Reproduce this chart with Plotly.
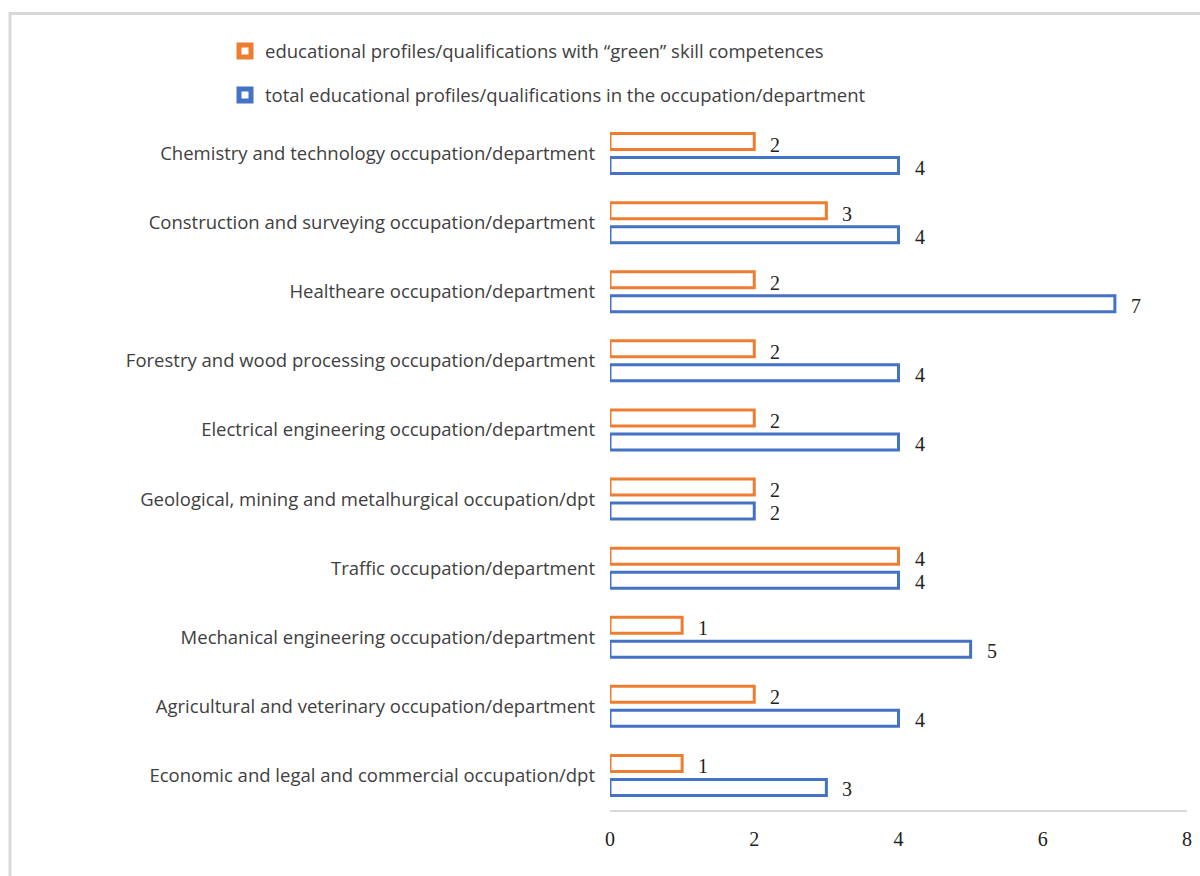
import plotly.graph_objects as go

# Occupations / departments, listed top to bottom
departments = [
    "Chemistry and technology occupation/department",
    "Construction and surveying occupation/department",
    "Healtheare occupation/department",
    "Forestry and wood processing occupation/department",
    "Electrical engineering occupation/department",
    "Geological, mining and metalhurgical occupation/dpt",
    "Traffic occupation/department",
    "Mechanical engineering occupation/department",
    "Agricultural and veterinary occupation/department",
    "Economic and legal and commercial occupation/dpt",
]
green_profiles = [2, 3, 2, 2, 2, 2, 4, 1, 2, 1]
total_profiles = [4, 4, 7, 4, 4, 2, 4, 5, 4, 3]

green_name = "educational profiles/qualifications with “green” skill competences"
total_name = "total educational profiles/qualifications in the occupation/department"

x_ticks = [0, 2, 4, 6, 8]

ORANGE = "#ED7D31"
BLUE = "#4472C4"
TEXT = "#404040"
GREY = "#D9D9D9"
SANS = "'Open Sans', Lato, sans-serif"
SERIF = "'Liberation Serif', 'Times New Roman', serif"
SANS_SIZE = 18.5

W, H = 1200, 876
ML, MR, MT, MB = 610, 13, 118.5, 66
plot_w = W - ML - MR
plot_h = H - MT - MB


def px_x(p):
    return (p - ML) / plot_w


def px_y(p):
    return (H - MB - p) / plot_h


fig = go.Figure()
fig.add_trace(go.Bar(
    y=departments, x=green_profiles, orientation="h", name=green_name,
    marker=dict(color="white", line=dict(color=ORANGE, width=3)),
    showlegend=False,
))
fig.add_trace(go.Bar(
    y=departments, x=total_profiles, orientation="h", name=total_name,
    marker=dict(color="white", line=dict(color=BLUE, width=3)),
    showlegend=False,
))

# legend keys: thick-bordered squares for each series
for name, color, leg in [(green_name, ORANGE, "legend"), (total_name, BLUE, "legend2")]:
    fig.add_trace(go.Scatter(
        x=[None], y=[None], mode="markers", name=name, legend=leg,
        marker=dict(symbol="square", size=12, color="white",
                    line=dict(color=color, width=5)),
        hoverinfo="skip",
    ))

# value labels next to each bar end
annotations = []
for dep, g, t in zip(departments, green_profiles, total_profiles):
    annotations.append(dict(x=g, y=dep, text=str(g), showarrow=False,
                            xanchor="left", yanchor="middle", xshift=14, yshift=9,
                            font=dict(family=SERIF, size=20, color="#222222")))
    annotations.append(dict(x=t, y=dep, text=str(t), showarrow=False,
                            xanchor="left", yanchor="middle", xshift=14, yshift=-14,
                            font=dict(family=SERIF, size=20, color="#222222")))

# light frame around the chart
shapes = [dict(type="rect", xref="paper", yref="paper",
               x0=px_x(10), x1=px_x(W + 40), y0=px_y(H + 40), y1=px_y(13),
               line=dict(color=GREY, width=3), fillcolor="rgba(0,0,0,0)", layer="below")]

legend_style = dict(xanchor="left", yanchor="middle", bgcolor="rgba(0,0,0,0)",
                    font=dict(family=SANS, size=SANS_SIZE, color=TEXT))

fig.update_layout(
    width=W, height=H,
    margin=dict(l=ML, r=MR, t=MT, b=MB, autoexpand=False),
    paper_bgcolor="white", plot_bgcolor="white",
    barmode="group", bargap=0.305, bargroupgap=0.333,
    showlegend=True,
    legend=dict(x=px_x(225), y=px_y(51), **legend_style),
    legend2=dict(x=px_x(225), y=px_y(95), **legend_style),
    xaxis=dict(range=[0, 8], tickvals=x_ticks, showgrid=False, zeroline=False,
               showline=True, linecolor=GREY, linewidth=2, ticks="",
               ticklabelstandoff=10,
               tickfont=dict(family=SERIF, size=20, color="#222222")),
    yaxis=dict(categoryorder="array", categoryarray=departments, autorange="reversed",
               showgrid=False, zeroline=False, showline=False, ticks="",
               ticklabelstandoff=14,
               tickfont=dict(family=SANS, size=SANS_SIZE, color=TEXT)),
    annotations=annotations,
    shapes=shapes,
)

fig.write_html("out.html")
